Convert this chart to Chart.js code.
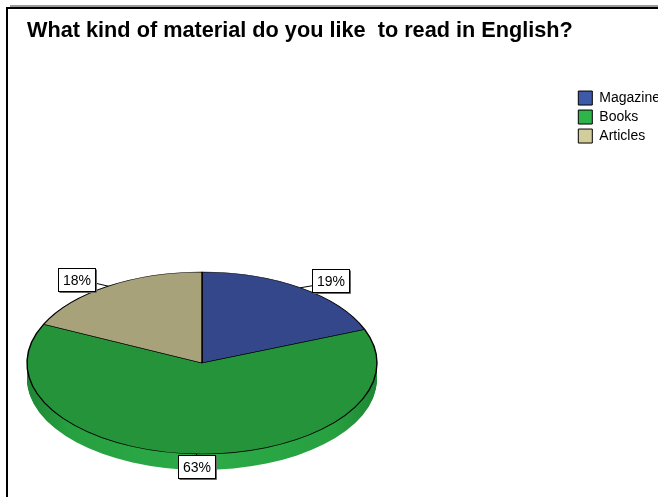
<!DOCTYPE html>
<html>
<head>
<meta charset="utf-8">
<title>Reading material</title>
<script src="https://cdn.jsdelivr.net/npm/chart.js@4.4.1/dist/chart.umd.min.js"></script>
<style>
  html, body { margin: 0; padding: 0; background: #fff; overflow: hidden; }
  #wrap { width: 680px; height: 497px; }
</style>
</head>
<body>
<div id="wrap"><canvas id="materialChart" width="680" height="497"></canvas></div>
<script>
const categories = ['Magazine', 'Books', 'Articles'];
const percentages = [19, 63, 18];

const faceColors = ['#33478a', '#25933a', '#a8a27b'];
const legendColors = ['#3d5aa8', '#2db44a', '#d3cd9c'];
const sideColors = ['#25356a', '#2aa845', '#8a8462'];

// tilted pie: where the top face sits and how thick the wall is
const PIE = { cx: 202, cy: 363, rx: 175, ry: 91, depth: 16 };

Chart.defaults.font.family = "'Liberation Sans', Arial, sans-serif";
Chart.defaults.color = '#000';

function ellipseTransform(ctx, arc, drop) {
  ctx.translate(PIE.cx, PIE.cy + drop);
  ctx.scale(PIE.rx / arc.outerRadius, PIE.ry / arc.outerRadius);
  ctx.translate(-arc.x, -arc.y);
}

function sideFill(ctx, arc, i) {
  if (i !== 1) return sideColors[i];
  const g = ctx.createLinearGradient(arc.x - arc.outerRadius, 0, arc.x + arc.outerRadius, 0);
  g.addColorStop(0, '#1f8634');
  g.addColorStop(0.12, '#27a040');
  g.addColorStop(0.5, '#2cab47');
  g.addColorStop(0.88, '#27a040');
  g.addColorStop(1, '#1f8634');
  return g;
}

function drawValueLabels(chart) {
  const ctx = chart.ctx;
  const arcs = chart.getDatasetMeta(0).data;
  const total = percentages.reduce((a, b) => a + b, 0);
  ctx.save();
  ctx.font = "14px 'Liberation Sans', Arial, sans-serif";
  ctx.textBaseline = 'middle';
  ctx.textAlign = 'center';
  arcs.forEach((arc, i) => {
    const mid = (arc.startAngle + arc.endAngle) / 2;
    const ax = PIE.cx + PIE.rx * Math.cos(mid);
    const ay = PIE.cy + PIE.ry * Math.sin(mid);
    const text = Math.round(percentages[i] / total * 100) + '%';
    const w = Math.round(ctx.measureText(text).width) + 9;
    const h = 23;
    let bx, by, lx, ly;
    if (Math.cos(mid) > 0.3) {
      bx = ax + 12; by = ay - 19; lx = bx; ly = ay - 2;
    } else if (Math.cos(mid) < -0.3) {
      bx = ax - 13 - w; by = ay - 18; lx = bx + w; ly = ay - 3;
    } else {
      bx = ax - w / 2; by = ay + 1; lx = ax; ly = ay + 1;
    }
    bx = Math.round(bx) + 0.5; by = Math.round(by) + 0.5;
    // leader line
    ctx.strokeStyle = '#000';
    ctx.lineWidth = 1;
    ctx.beginPath();
    ctx.moveTo(ax, ay);
    ctx.lineTo(lx, ly);
    ctx.stroke();
    // box with a thin drop shadow
    ctx.strokeStyle = '#666';
    ctx.beginPath();
    ctx.moveTo(bx + w + 1, by + 1);
    ctx.lineTo(bx + w + 1, by + h + 1);
    ctx.lineTo(bx + 1, by + h + 1);
    ctx.stroke();
    ctx.fillStyle = '#fff';
    ctx.fillRect(bx, by, w, h);
    ctx.strokeStyle = '#000';
    ctx.strokeRect(bx, by, w, h);
    ctx.fillStyle = '#000';
    ctx.fillText(text, bx + w / 2, by + h / 2 + 1);
  });
  ctx.restore();
}

const tiltPlugin = {
  id: 'tilt',
  beforeDatasetsDraw(chart) {
    const ctx = chart.ctx;
    const arcs = chart.getDatasetMeta(0).data;
    const a0 = arcs[0];
    // wall: the slices stacked downward, one pixel at a time
    for (let d = PIE.depth; d >= 1; d--) {
      arcs.forEach((arc, i) => {
        ctx.save();
        ellipseTransform(ctx, a0, d);
        ctx.fillStyle = sideFill(ctx, a0, i);
        ctx.beginPath();
        ctx.moveTo(arc.x, arc.y);
        ctx.arc(arc.x, arc.y, arc.outerRadius, arc.startAngle, arc.endAngle);
        ctx.closePath();
        ctx.fill();
        ctx.restore();
      });
    }
    ctx.save();
    ellipseTransform(ctx, a0, 0);
  },
  afterDatasetsDraw(chart) {
    chart.ctx.restore();
    drawValueLabels(chart);
  }
};

const framePlugin = {
  id: 'frame',
  beforeDraw(chart) {
    const ctx = chart.ctx;
    ctx.save();
    ctx.fillStyle = '#fff';
    ctx.fillRect(0, 0, chart.width, chart.height);
    ctx.fillStyle = '#9a9a9a';
    ctx.fillRect(10, 5, chart.width - 10, 2);
    ctx.fillStyle = '#000';
    ctx.fillRect(6, 7, chart.width - 6, 2);
    ctx.fillRect(6, 7, 2, chart.height - 7);
    ctx.restore();
  }
};

new Chart(document.getElementById('materialChart'), {
  type: 'pie',
  data: {
    labels: categories,
    datasets: [{
      data: percentages,
      backgroundColor: faceColors,
      borderColor: '#000',
      borderWidth: 1.4,
      radius: 175,
      clip: false
    }]
  },
  options: {
    responsive: false,
    animation: false,
    layout: { padding: { left: 27, right: 10, top: 0, bottom: 10 } },
    plugins: {
      title: {
        display: true,
        text: 'What kind of material do you like  to read in English?',
        align: 'start',
        color: '#000',
        font: { size: 21.7, weight: 'bold' },
        padding: { top: 18, bottom: 42 }
      },
      legend: {
        position: 'right',
        align: 'start',
        fullSize: false,
        labels: {
          boxWidth: 14,
          boxHeight: 14,
          padding: 5,
          color: '#000',
          font: { size: 14 },
          generateLabels: () => categories.map((c, i) => ({
            text: c,
            fillStyle: legendColors[i],
            strokeStyle: '#000',
            lineWidth: 1,
            hidden: false,
            index: i
          }))
        }
      },
      tooltip: { enabled: false }
    }
  },
  plugins: [framePlugin, tiltPlugin]
});
</script>
</body>
</html>
